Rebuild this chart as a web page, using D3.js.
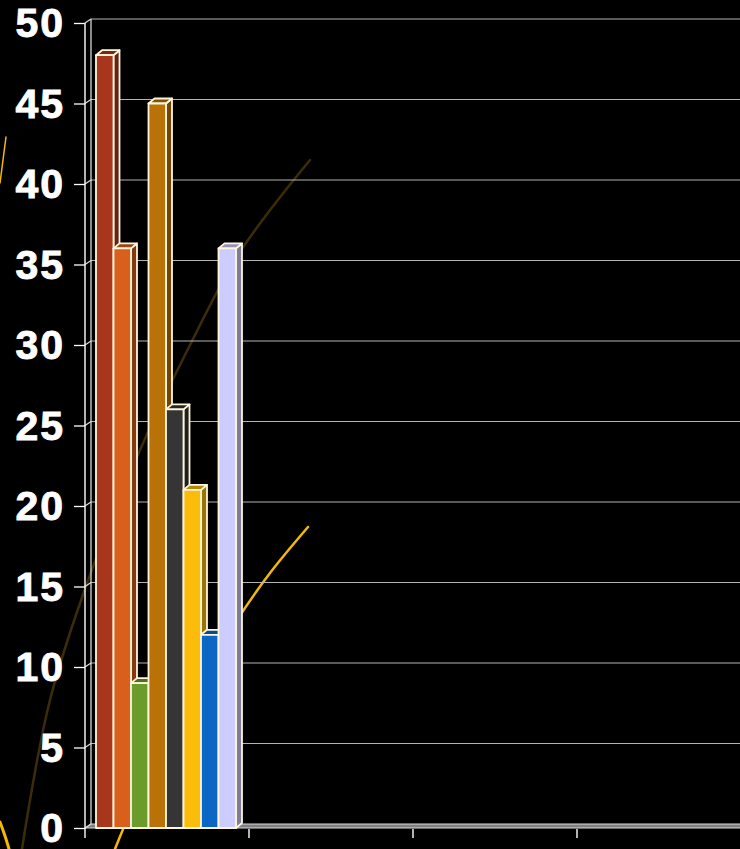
<!DOCTYPE html>
<html>
<head>
<meta charset="utf-8">
<script src="https://cdn.jsdelivr.net/npm/d3@7"></script>
<style>
  html, body { margin: 0; background: #000; }
  svg { display: block; }
</style>
</head>
<body>
<div id="chart"></div>
<script>
// Data: only the first category carries bars
const categories = ["1", "2", "3", "4"];
const seriesNames = ["S1", "S2", "S3", "S4", "S5", "S6", "S7", "S8"];
const seriesValues = [48, 36, 9, 45, 26, 21, 12, 36];
const seriesColors = ["#a8361a", "#d95f1c", "#6b9b2a", "#b87208", "#353535", "#fbbd0a", "#0c66c6", "#ccccff"];
const yTicks = [0, 5, 10, 15, 20, 25, 30, 35, 40, 45, 50];

const width = 740, height = 849;
const margin = { top: 23, right: 0, bottom: 21, left: 85 };
const wallDx = 6, wallDy = 4;   // depth of the 3D walls
const barDx = 6, barDy = 5;     // depth of each bar

const svg = d3.select("#chart")
    .append("svg")
    .attr("width", width)
    .attr("height", height)
    .style("background", "#000");

// Decorative curves from the slide background
const curve = d3.line().curve(d3.curveCatmullRom);
const deco = svg.append("g").attr("fill", "none").attr("stroke-linecap", "round");
deco.append("path")
    .attr("d", curve([[22, 849], [50, 700], [90, 575], [140, 450], [190, 345], [240, 252], [310, 160]]))
    .attr("stroke", "#3d2c08").attr("stroke-width", 2.5);
deco.append("path")
    .attr("d", curve([[115, 849], [124, 827], [150, 768], [190, 697], [237, 620], [270, 573], [308, 527]]))
    .attr("stroke", "#f5b800").attr("stroke-width", 2.5);
deco.append("path")
    .attr("d", curve([[6, 137], [3, 160], [0, 183]]))
    .attr("stroke", "#f5b800").attr("stroke-width", 1.5);
deco.append("path")
    .attr("d", curve([[0, 822], [5, 836], [9, 849]]))
    .attr("stroke", "#f5b800").attr("stroke-width", 3);

// Scales
const x = d3.scaleBand()
    .domain(categories)
    .range([margin.left, margin.left + categories.length * 164]);
const xs = d3.scaleBand()
    .domain(seriesNames)
    .range([11, 151]);
const y = d3.scaleLinear()
    .domain([0, 50])
    .range([height - margin.bottom, margin.top]);

const x0 = margin.left, y0 = y(0);

// Floor
svg.append("path")
    .attr("d", `M${x0},${y0}L${width + 10},${y0}L${width + 10},${y0 - wallDy}L${x0 + wallDx},${y0 - wallDy}Z`)
    .attr("fill", "#808080")
    .attr("stroke", "#d8d8d8")
    .attr("stroke-width", 1);

// Grid lines on the back wall and the side wall
const grid = svg.append("g").attr("stroke", "#b4b4b4").attr("stroke-width", 1.2);
grid.selectAll("line.back")
    .data(yTicks.slice(1))
    .join("line")
      .attr("class", "back")
      .attr("x1", x0 + wallDx).attr("x2", width)
      .attr("y1", d => y(d) - wallDy).attr("y2", d => y(d) - wallDy);
grid.selectAll("line.side")
    .data(yTicks)
    .join("line")
      .attr("class", "side")
      .attr("stroke", "#e0e0e0")
      .attr("x1", x0).attr("x2", x0 + wallDx)
      .attr("y1", d => y(d)).attr("y2", d => y(d) - wallDy);

// Side wall edges
svg.append("line")
    .attr("x1", x0 + wallDx).attr("x2", x0 + wallDx)
    .attr("y1", y(0) - wallDy).attr("y2", y(50) - wallDy)
    .attr("stroke", "#e8e8e8").attr("stroke-width", 1.2);

// Bars, drawn left to right so each front face covers the previous side face
const bars = svg.append("g");
seriesNames.forEach((s, i) => {
    const v = seriesValues[i];
    const bx = x(categories[0]) + xs(s);
    const bw = xs.bandwidth();
    const top = y(v);
    const c = d3.color(seriesColors[i]);
    const g = bars.append("g")
        .attr("stroke", "#fff6dc")
        .attr("stroke-width", 1.8)
        .attr("stroke-linejoin", "round");
    g.append("path")
        .attr("d", `M${bx + bw},${y0}L${bx + bw + barDx},${y0 - barDy}L${bx + bw + barDx},${top - barDy}L${bx + bw},${top}Z`)
        .attr("fill", c.darker(1.4));
    g.append("path")
        .attr("d", `M${bx},${top}L${bx + barDx},${top - barDy}L${bx + bw + barDx},${top - barDy}L${bx + bw},${top}Z`)
        .attr("fill", c.darker(0.9));
    g.append("rect")
        .attr("x", bx).attr("y", top)
        .attr("width", bw).attr("height", y0 - top)
        .attr("fill", c);
});

// Y axis
const yAxis = g => g
    .attr("transform", `translate(${x0},0)`)
    .call(d3.axisLeft(y).tickValues(yTicks).tickSize(11).tickPadding(9))
    .call(g => g.select(".domain").remove())
    .call(g => g.selectAll(".tick line").attr("stroke", "#fff").attr("stroke-width", 1.3))
    .call(g => g.selectAll(".tick text")
        .attr("fill", "#fff")
        .attr("stroke", "#fff")
        .attr("stroke-width", 0.9)
        .attr("dy", "0.34em")
        .style("letter-spacing", "2px")
        .style("font-family", "'Liberation Sans', Arial, sans-serif")
        .style("font-weight", "bold")
        .style("font-size", "41px"));
svg.append("g").call(yAxis);

svg.append("line")
    .attr("x1", x0).attr("x2", x0)
    .attr("y1", y(0) + 1).attr("y2", y(50))
    .attr("stroke", "#fff").attr("stroke-width", 1.4);

// X axis: ticks at the category boundaries, no labels
svg.append("g")
    .selectAll("line")
    .data(categories)
    .join("line")
      .attr("x1", d => x(d)).attr("x2", d => x(d))
      .attr("y1", y0 + 1).attr("y2", y0 + 10)
      .attr("stroke", "#fff").attr("stroke-width", 1.4);
</script>
</body>
</html>
